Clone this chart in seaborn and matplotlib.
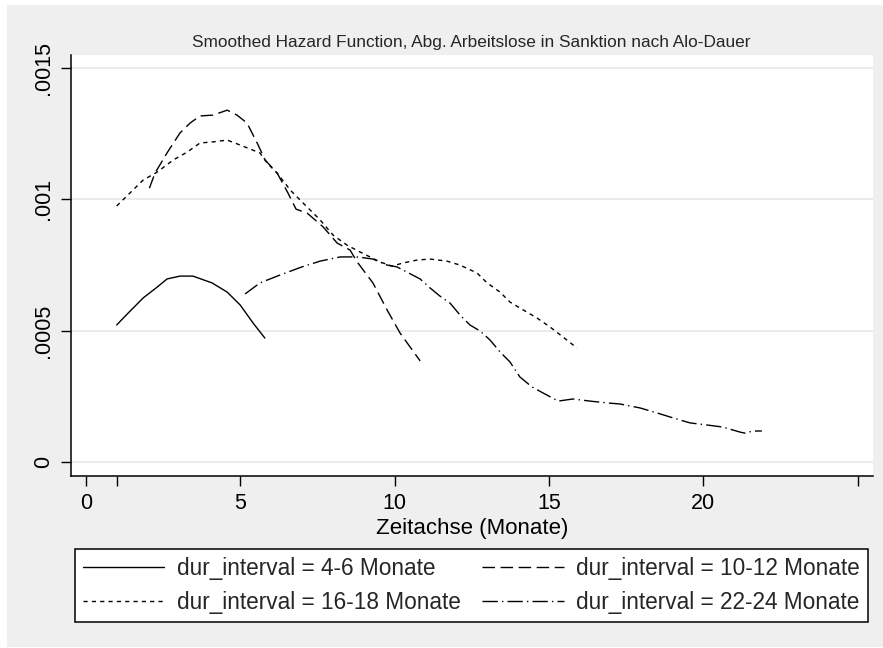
import numpy as np
import pandas as pd
import matplotlib
matplotlib.use("Agg")
import matplotlib.pyplot as plt
from matplotlib.patches import Rectangle
import seaborn as sns

# ---------------- data ----------------
labels = ["dur_interval = 4-6 Monate", "dur_interval = 10-12 Monate",
          "dur_interval = 16-18 Monate", "dur_interval = 22-24 Monate"]

x_4_6 = [1.0, 1.37, 1.86, 2.31, 2.63, 3.05, 3.47, 4.09, 4.58, 5.0, 5.42, 5.8]
y_4_6 = [0.000522, 0.000567, 0.000625, 0.000666, 0.000697, 0.000708, 0.000708,
         0.000682, 0.000647, 0.000598, 0.000529, 0.000472]

x_10_12 = [2.06, 2.24, 2.63, 3.05, 3.38, 3.70, 4.12, 4.58, 4.90, 5.22, 5.55, 5.81,
           6.20, 6.55, 6.81, 7.17, 7.69, 8.14, 8.56, 8.79, 9.30, 9.76, 10.18, 10.83]
y_10_12 = [0.001043, 0.001100, 0.001177, 0.001253, 0.001291, 0.001318, 0.001321,
           0.001340, 0.001321, 0.001291, 0.001215, 0.001150, 0.001100, 0.001024,
           0.000963, 0.000948, 0.000895, 0.000834, 0.000807, 0.000762, 0.000682,
           0.000579, 0.000491, 0.000385]

x_16_18 = [1.0, 1.53, 1.86, 2.31, 2.83, 3.28, 3.70, 4.12, 4.58, 5.0, 5.64, 5.87,
           6.20, 6.62, 7.04, 7.59, 8.01, 8.46, 8.88, 9.53, 9.92, 10.28, 10.73,
           11.15, 11.70, 12.12, 12.67, 13.0, 13.42, 13.74, 14.17, 14.62, 15.04,
           15.46, 15.91]
y_16_18 = [0.000975, 0.001036, 0.001074, 0.001104, 0.001150, 0.001180, 0.001215,
           0.001219, 0.001226, 0.001207, 0.001177, 0.001139, 0.001100, 0.001036,
           0.000986, 0.000922, 0.000864, 0.000826, 0.000800, 0.000762, 0.000746,
           0.000758, 0.000769, 0.000773, 0.000765, 0.000750, 0.000720, 0.000682,
           0.000647, 0.000609, 0.000579, 0.000548, 0.000514, 0.000476, 0.000434]

x_22_24 = [5.16, 5.64, 6.29, 7.0, 7.59, 8.24, 8.79, 9.30, 9.76, 10.08, 10.83, 11.15,
           11.47, 11.80, 12.12, 12.44, 12.77, 13.09, 13.42, 13.74, 14.06, 14.45,
           14.81, 15.30, 15.78, 16.33, 16.88, 17.30, 17.95, 18.50, 19.02, 19.57,
           20.12, 20.64, 21.19, 21.35, 21.61, 21.90]
y_22_24 = [0.000640, 0.000682, 0.000712, 0.000743, 0.000765, 0.000781, 0.000781,
           0.000773, 0.000750, 0.000743, 0.000697, 0.000663, 0.000632, 0.000605,
           0.000560, 0.000522, 0.000499, 0.000465, 0.000419, 0.000381, 0.000324,
           0.000286, 0.000263, 0.000232, 0.000240, 0.000232, 0.000225, 0.000221,
           0.000206, 0.000187, 0.000168, 0.000149, 0.000141, 0.000133, 0.000114,
           0.000110, 0.000118, 0.000118]

x_ticks = [0, 1, 5, 10, 15, 20, 25]
x_ticklabels = ["0", "", "5", "10", "15", "20", ""]
y_ticks = [0, 0.0005, 0.001, 0.0015]
y_ticklabels = ["0", ".0005", ".001", ".0015"]

title = "Smoothed Hazard Function, Abg. Arbeitslose in Sanktion nach Alo-Dauer"
xlabel = "Zeitachse (Monate)"

# ---------------- build table ----------------
frames = []
for lab, xs, ys in zip(labels, [x_4_6, x_10_12, x_16_18, x_22_24],
                       [y_4_6, y_10_12, y_16_18, y_22_24]):
    frames.append(pd.DataFrame({"t": xs, "h": ys, "grp": lab}))
df = pd.concat(frames, ignore_index=True)

# ---------------- style ----------------
sns.set_style("white")
plt.rcParams["font.family"] = ["Liberation Sans", "DejaVu Sans"]
plt.rcParams["lines.scale_dashes"] = False

fig = plt.figure(figsize=(8.83, 6.48), dpi=100)
fig.patch.set_facecolor("white")
fig.add_artist(Rectangle((7 / 883, 1 / 648), 1 - 7 / 883, 642 / 648,
                         transform=fig.transFigure, facecolor="#efefef",
                         edgecolor="none", zorder=-10))

ax = fig.add_axes([71 / 883, 1 - 476 / 648, (873 - 71) / 883, (476 - 55) / 648])
ax.set_facecolor("white")

palette = {lab: "black" for lab in labels}
dashes = {labels[0]: "", labels[1]: (9, 4), labels[2]: (3, 3),
          labels[3]: (11, 3, 1, 3)}

sns.lineplot(data=df, x="t", y="h", hue="grp", style="grp", hue_order=labels,
             style_order=labels, palette=palette, dashes=dashes,
             estimator=None, sort=False, lw=1.0, ax=ax)

ax.set_xlim(-0.48, 25.5)
ax.set_ylim(-5.33e-5, 0.00155)

ax.set_xticks(x_ticks)
ax.set_xticklabels(x_ticklabels)
ax.set_yticks(y_ticks)
ax.set_yticklabels(y_ticklabels, rotation=90, va="center")

for s in ["top", "right"]:
    ax.spines[s].set_visible(False)
for s in ["left", "bottom"]:
    ax.spines[s].set_color("black")
    ax.spines[s].set_linewidth(1.1)

ax.tick_params(axis="both", direction="out", length=7, width=1.0, color="black",
               labelsize=15.5, labelcolor="black", bottom=True, left=True)
ax.tick_params(axis="x", pad=5)
ax.tick_params(axis="y", pad=5)

ax.grid(axis="y", color="#e6e6e6", lw=1.1)
ax.grid(axis="x", visible=False)
ax.set_axisbelow(True)

ax.set_xlabel(xlabel, fontsize=16, labelpad=3, color="black")
ax.set_ylabel("")

fig.text(471 / 883, 1 - 42 / 648, title, ha="center", va="center", fontsize=12.4)

handles, labs = ax.get_legend_handles_labels()
ax.get_legend().remove()
hmap = dict(zip(labs, handles))
order = [labels[0], labels[2], labels[1], labels[3]]
leg = fig.legend([hmap[l] for l in order], order, loc="center",
                 bbox_to_anchor=(471.5 / 883, 1 - 585.5 / 648), ncol=2,
                 fontsize=16.3, frameon=True, fancybox=False, edgecolor="black",
                 facecolor="white", framealpha=1, handlelength=3.6,
                 handletextpad=0.55, columnspacing=0.95, labelspacing=0.5,
                 borderpad=0.35, borderaxespad=0)
leg.get_frame().set_linewidth(1.1)
for ln in leg.get_lines():
    ln.set_linewidth(1.0)

fig.savefig("out.png", dpi=100)
